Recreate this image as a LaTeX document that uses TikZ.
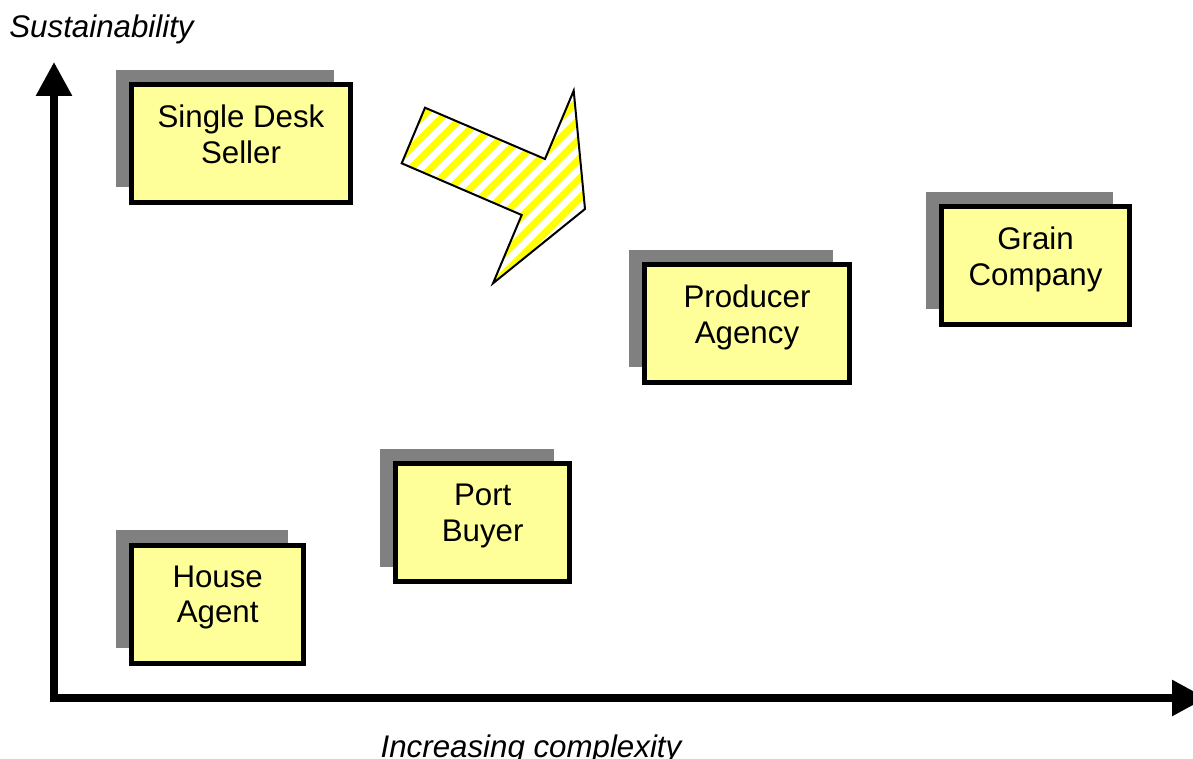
\documentclass[tikz,border=0pt]{standalone}
\usepackage{fontspec}
\setmainfont{Liberation Sans}
\usetikzlibrary{arrows.meta, shadows, patterns.meta}
\definecolor{boxyellow}{HTML}{FFFF99}
\definecolor{shadowgrey}{HTML}{808080}

\begin{document}
\begin{tikzpicture}[x = 0.02cm, y = -0.02cm,
  every node/.style = {font = \fontsize{17.8}{20.4}\selectfont},
  stage/.style = {draw, line width = 0.1cm, fill = boxyellow, align = center,
    minimum height = 2.36cm, text depth = 0.39cm,
    drop shadow = {fill = shadowgrey, opacity = 1, shadow xshift = -0.32cm, shadow yshift = 0.30cm}},
  axis/.style = {line width = 0.15cm, {Triangle[width = 0.69cm, length = 0.68cm]}-{Triangle[width = 0.69cm, length = 0.68cm]}},
  axislabel/.style = {anchor = base, font = \fontsize{17.8}{20.4}\selectfont\itshape},
  bigarrow/.style = {draw, line width = 0.04cm, pattern = {Lines[angle = 45, distance = 8pt, line width = 4pt]}, pattern color = yellow}]

  \useasboundingbox (0, 0) rectangle (1193, 758);
  \clip (0, 0) rectangle (1193, 758);

  % Axes
  \coordinate (origin) at (54, 698);
  \coordinate (ytip) at (54, 62);
  \coordinate (xtip) at (1206, 698);
  \draw[axis] (ytip) -- (origin) -- (xtip);
  \node[axislabel] (ylabel) at (101.5, 37) {Sustainability};
  \node[axislabel] (xlabel) at (531, 757) {Increasing complexity};

  % Boxes
  \node[stage, minimum width = 4.38cm] (seller) at (241, 143.5) {Single Desk\\Seller};
  \node[stage, minimum width = 3.76cm] (grain) at (1035.5, 265.5) {Grain\\Company};
  \node[stage, minimum width = 4.10cm] (agency) at (747, 323.5) {Producer\\Agency};
  \node[stage, minimum width = 3.48cm] (port) at (482.7, 522.7) {Port\\Buyer};
  \node[stage, minimum width = 3.44cm] (house) at (217.7, 604) {House\\Agent};

  % Arrow
  \draw[bigarrow] (425, 107.7) -- (545, 159) -- (573.7, 90.7) -- (585, 209)
    -- (493, 283.3) -- (521.7, 215) -- (401.7, 163.3) -- cycle;

\end{tikzpicture}
\end{document}
